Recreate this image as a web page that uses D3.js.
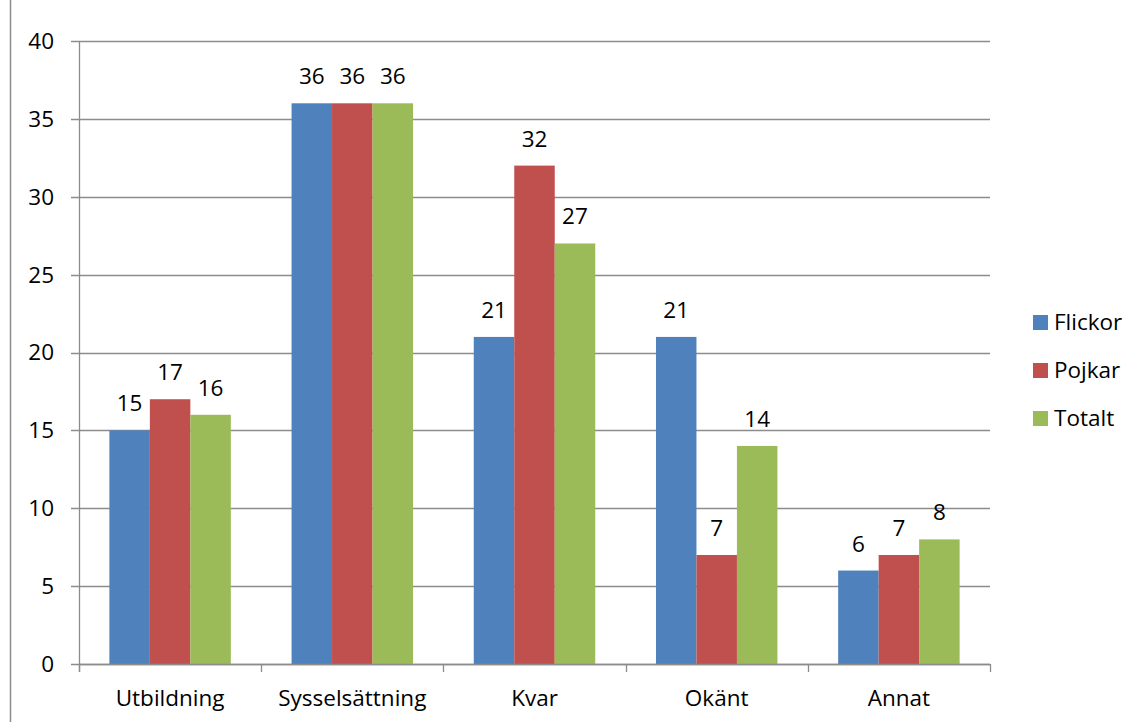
<!DOCTYPE html>
<html>
<head>
<meta charset="utf-8">
<script src="https://cdn.jsdelivr.net/npm/d3@7"></script>
<style>
body{margin:0;background:#fff;}
text{font-family:"Open Sans",Lato,sans-serif;fill:#000;font-size:22.5px;}
</style>
</head>
<body>
<div id="chart"></div>
<script>
const categories = ["Utbildning","Sysselsättning","Kvar","Okänt","Annat"];
const seriesNames = ["Flickor","Pojkar","Totalt"];
const flickor = [15,36,21,21,6];
const pojkar = [17,36,32,7,7];
const totalt = [16,36,27,14,8];
const yTicks = [0,5,10,15,20,25,30,35,40];
const colors = ["#4F81BD","#C0504D","#9BBB59"];

const W = 1142, H = 722;
const MARGIN = {TOP:41,BOTTOM:58,LEFT:79,RIGHT:152};
const WIDTH = W - MARGIN.LEFT - MARGIN.RIGHT;
const HEIGHT = H - MARGIN.TOP - MARGIN.BOTTOM;
const grid = "#8c8c8c";

const svg = d3.select("#chart").append("svg")
    .attr("width",W).attr("height",H);

// chart frame left edge
svg.append("line").attr("x1",10.5).attr("x2",10.5).attr("y1",0).attr("y2",H)
    .attr("stroke",grid).attr("stroke-width",1.5);

const g = svg.append("g").attr("transform",`translate(${MARGIN.LEFT},${MARGIN.TOP})`);

const y = d3.scaleLinear().domain([0,40]).range([HEIGHT,0]);
const x = d3.scaleBand().domain(categories).range([0,WIDTH]);
const xs = d3.scaleBand().domain(seriesNames)
    .range([x.bandwidth()*(1/6), x.bandwidth()*(5/6)]);

// gridlines + y axis
g.selectAll(".grid").data(yTicks).enter().append("line")
    .attr("x1",-8).attr("x2",WIDTH)
    .attr("y1",d=>Math.round(y(d))+0.5).attr("y2",d=>Math.round(y(d))+0.5)
    .attr("stroke",grid).attr("stroke-width",1.3);
g.selectAll(".ylab").data(yTicks).enter().append("text")
    .attr("x",-25).attr("y",d=>y(d)).attr("dy","0.35em")
    .attr("text-anchor","end")
    .text(d=>d);
g.append("line").attr("x1",0.5).attr("x2",0.5).attr("y1",0).attr("y2",HEIGHT+8)
    .attr("stroke",grid).attr("stroke-width",1.3);

const series = [flickor,pojkar,totalt];
series.forEach((vals,si)=>{
    const name = seriesNames[si];
    g.selectAll(".bar"+si).data(categories).enter().append("rect")
        .attr("x",(c)=>x(c)+xs(name))
        .attr("y",(c,i)=>y(vals[i]))
        .attr("width",xs.bandwidth())
        .attr("height",(c,i)=>HEIGHT-y(vals[i]))
        .attr("fill",colors[si]);
    g.selectAll(".val"+si).data(categories).enter().append("text")
        .attr("x",(c)=>x(c)+xs(name)+xs.bandwidth()/2)
        .attr("y",(c,i)=>y(vals[i])-19)
        .attr("text-anchor","middle")
        .text((c,i)=>vals[i]);
});

// x axis
g.append("line").attr("x1",0).attr("x2",WIDTH)
    .attr("y1",HEIGHT+0.5).attr("y2",HEIGHT+0.5)
    .attr("stroke",grid).attr("stroke-width",1.3);
const xTickPos = categories.map(c=>x(c)).concat([WIDTH]);
g.selectAll(".xtick").data(xTickPos).enter().append("line")
    .attr("x1",d=>Math.round(d)+0.5).attr("x2",d=>Math.round(d)+0.5)
    .attr("y1",HEIGHT).attr("y2",HEIGHT+8)
    .attr("stroke",grid).attr("stroke-width",1.3);
g.selectAll(".xlab").data(categories).enter().append("text")
    .attr("x",c=>x(c)+x.bandwidth()/2).attr("y",HEIGHT+42)
    .attr("text-anchor","middle")
    .text(c=>c);

// legend
const legend = svg.append("g").attr("transform","translate(1033,322)");
seriesNames.forEach((n,i)=>{
    const row = legend.append("g").attr("transform",`translate(0,${i*48})`);
    row.append("rect").attr("x",0).attr("y",-7).attr("width",15).attr("height",15)
        .attr("fill",colors[i]);
    row.append("text").attr("x",21).attr("y",0).attr("dy","0.35em")
        .text(n);
});
</script>
</body>
</html>
